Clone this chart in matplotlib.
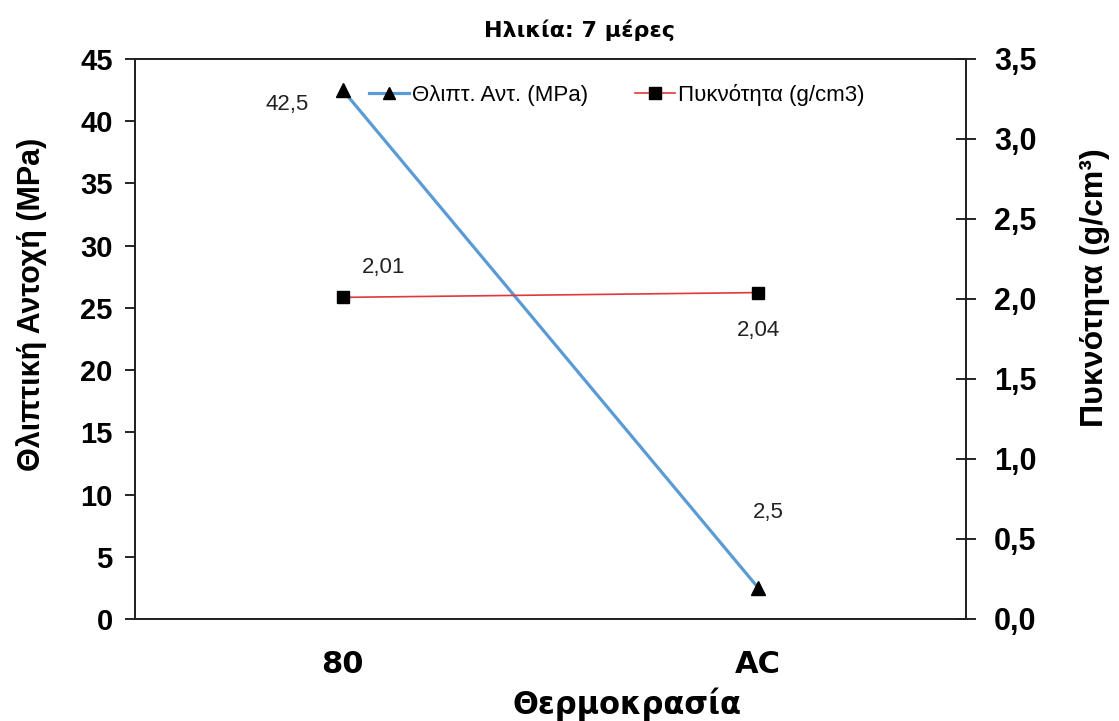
import matplotlib
matplotlib.use('Agg')
import matplotlib.pyplot as plt
from matplotlib.lines import Line2D
from matplotlib.ticker import FuncFormatter

plt.rcParams['font.family'] = ['Liberation Sans', 'DejaVu Sans']

# Δεδομένα
katigories = ['80', 'AC']
antoxi = [42.5, 2.5]          # MPa
pyknotita = [2.01, 2.04]      # g/cm3

# θέσεις ετικετών τιμών (offset σε pixels)
off_antoxi = [(-56, -14), (10, 75)]
off_pykn = [(41, 30), (0, -38)]

fig = plt.figure(figsize=(11.19, 7.21), dpi=100)
ax = fig.add_axes([0.1206, 0.1415, 0.7427, 0.7767])
ax2 = ax.twinx()

x = list(range(len(katigories)))

ax.plot(x, antoxi, color='#5b9bd5', lw=2.3, marker='^', ms=10,
        mfc='black', mec='black', zorder=3)
ax2.plot(x, pyknotita, color='#e0383c', lw=1.2, marker='s', ms=9,
         mfc='black', mec='black', zorder=3)

for xi, v, o in zip(x, antoxi, off_antoxi):
    ax.annotate(f'{v}'.replace('.', ','), (xi, v), xytext=o,
                textcoords='offset pixels', ha='center', va='center',
                fontsize=16, color='#222222')
for xi, v, o in zip(x, pyknotita, off_pykn):
    ax2.annotate(f'{v:.2f}'.replace('.', ','), (xi, v), xytext=o,
                 textcoords='offset pixels', ha='center', va='center',
                 fontsize=16, color='#222222')

ax.set_xlim(-0.5, 1.5)
ax.set_ylim(0, 45)
ax.set_yticks(range(0, 46, 5))
ax2.set_ylim(0, 3.5)
ax2.set_yticks([i * 0.5 for i in range(8)])
ax2.yaxis.set_major_formatter(FuncFormatter(lambda v, p: f'{v:.1f}'.replace('.', ',')))

ax.set_xticks(x)
ax.set_xticklabels(katigories)
ax.tick_params(axis='x', length=0, pad=22, labelsize=22)
for t in ax.get_xticklabels():
    t.set_fontweight('bold')
    t.set_family('DejaVu Sans')
ax.tick_params(axis='y', direction='out', length=7, width=1.2, labelsize=21, pad=9)
for t in ax.get_yticklabels():
    t.set_fontweight('bold')
ax2.tick_params(axis='y', direction='inout', length=14, width=1.2, labelsize=22, pad=13)
for t in ax2.get_yticklabels():
    t.set_fontweight('bold')

for a in (ax, ax2):
    for s in a.spines.values():
        s.set_linewidth(1.3)
        s.set_color('#222222')

ax.set_ylabel('Θλιπτική Αντοχή (MPa)', fontsize=22, fontweight='bold')
ax.yaxis.set_label_coords(-0.106, 0.561)
ax2.set_ylabel('Πυκνότητα (g/cm³)', fontsize=23, fontweight='bold')
ax2.yaxis.set_label_coords(1.137, 0.591)
ax.set_xlabel('Θερμοκρασία', fontsize=22, fontweight='bold', family='DejaVu Sans')
ax.xaxis.set_label_coords(0.592, -0.123)

fig.text(0.518, 0.958, 'Ηλικία: 7 μέρες', ha='center', va='center',
         fontsize=16, fontweight='bold', family='DejaVu Sans')

handles = [
    Line2D([], [], color='#5b9bd5', lw=2.3, marker='^', ms=9, mfc='black', mec='black'),
    Line2D([], [], color='#e0383c', lw=1.2, marker='s', ms=8, mfc='black', mec='black'),
]
ax.legend(handles, ['Θλιπτ. Αντ. (MPa)', 'Πυκνότητα (g/cm3)'], ncol=2,
          loc='center', bbox_to_anchor=(0.58, 0.936), frameon=False,
          fontsize=16, handlelength=1.8, handletextpad=0.15, columnspacing=2.1)

fig.savefig('out.png', dpi=100)
